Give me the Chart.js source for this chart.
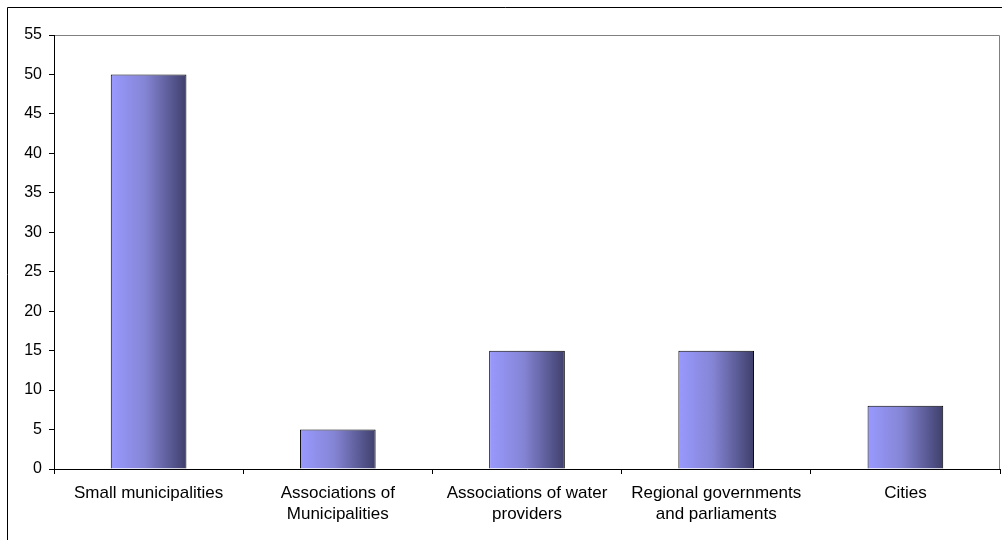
<!DOCTYPE html>
<html>
<head>
<meta charset="utf-8">
<script src="https://cdn.jsdelivr.net/npm/chart.js@4/dist/chart.umd.min.js"></script>
<style>
  html, body { margin: 0; padding: 0; background: #ffffff; }
  #wrap { width: 1002px; height: 540px; position: relative; }
</style>
</head>
<body>
<div id="wrap"><canvas id="c" width="1002" height="540"></canvas></div>
<script>
// Category labels (multi-line where the label wraps)
const categories = [
  'Small municipalities',
  ['Associations of', 'Municipalities'],
  ['Associations of water', 'providers'],
  ['Regional governments', 'and parliaments'],
  'Cities'
];
// Bar values
const values = [50, 5, 15, 15, 8];
// Value axis range and step
const yMin = 0;
const yMax = 55;
const yStep = 5;

const FAMILY = 'Arial, "Liberation Sans", sans-serif';

// Horizontal light-to-dark fill on each bar, plus frame lines
const decor = {
  id: 'decor',
  beforeDatasetsDraw(chart) {
    const ctx = chart.ctx;
    const meta = chart.getDatasetMeta(0);
    meta.data.forEach(el => {
      const p = el.getProps(['x', 'width'], true);
      const x0 = p.x - p.width / 2, x1 = p.x + p.width / 2;
      const g = ctx.createLinearGradient(x0, 0, x1, 0);
      g.addColorStop(0, '#9999ff');
      g.addColorStop(0.45, '#8585d6');
      g.addColorStop(1, '#3f3f6c');
      el.options = Object.assign({}, el.options, { backgroundColor: g });
    });
  },
  beforeDraw(chart) {
    const ctx = chart.ctx;
    const a = chart.chartArea;
    ctx.save();
    // plot area top and right edges
    ctx.strokeStyle = '#808080';
    ctx.lineWidth = 1;
    ctx.beginPath();
    ctx.moveTo(Math.round(a.left) + 0.5, Math.round(a.top) + 0.5);
    ctx.lineTo(Math.round(a.right) - 0.5, Math.round(a.top) + 0.5);
    ctx.lineTo(Math.round(a.right) - 0.5, Math.round(a.bottom));
    ctx.stroke();
    // outer chart frame
    ctx.strokeStyle = '#000000';
    ctx.beginPath();
    ctx.rect(7.5, 7.5, chart.width + 20, chart.height + 20);
    ctx.stroke();
    ctx.restore();
  }
};

new Chart(document.getElementById('c'), {
  type: 'bar',
  data: {
    labels: categories,
    datasets: [{
      data: values,
      backgroundColor: (c) => '#8585d6',
      borderColor: '#000000',
      borderWidth: 1,
      categoryPercentage: 0.8,
      barPercentage: 0.5
    }]
  },
  options: {
    responsive: false,
    animation: false,
    devicePixelRatio: 1,
    layout: { padding: { top: 35, right: 2, left: 0, bottom: 0 } },
    plugins: {
      legend: { display: false },
      tooltip: { enabled: false }
    },
    scales: {
      x: {
        offset: true,
        grid: {
          display: true,
          offset: true,
          drawOnChartArea: false,
          drawTicks: true,
          tickLength: 5,
          color: '#000000'
        },
        border: { display: true, color: '#000000', width: 1 },
        ticks: {
          color: '#000000',
          font: { family: FAMILY, size: 17, lineHeight: 1.24 },
          padding: 9,
          maxRotation: 0,
          autoSkip: false
        },
        afterFit(scale) { scale.height = 71; }
      },
      y: {
        min: yMin,
        max: yMax,
        grid: {
          display: true,
          drawOnChartArea: false,
          drawTicks: true,
          tickLength: 5,
          color: '#000000'
        },
        border: { display: true, color: '#000000', width: 1 },
        ticks: {
          stepSize: yStep,
          color: '#000000',
          font: { family: FAMILY, size: 16 },
          padding: 7
        },
        afterFit(scale) { scale.width = 54; }
      }
    }
  },
  plugins: [decor]
});
</script>
</body>
</html>
